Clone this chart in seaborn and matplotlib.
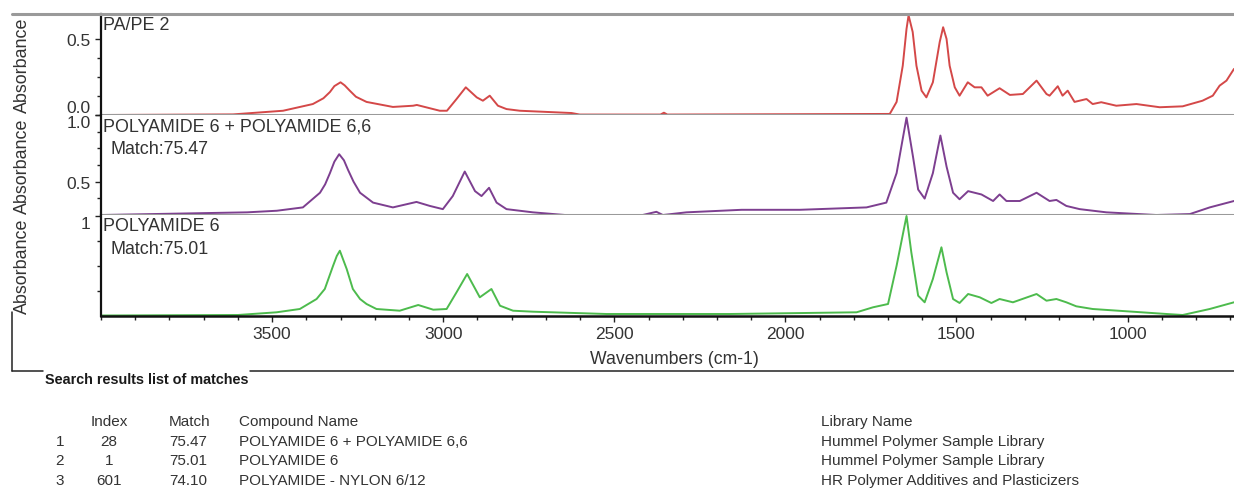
import matplotlib
matplotlib.use("Agg")
import matplotlib.pyplot as plt
from matplotlib.lines import Line2D
from matplotlib.ticker import FixedLocator, FixedFormatter, MultipleLocator, NullLocator
import pandas as pd
import seaborn as sns

# ---------------------------------------------------------------
# FT-IR spectra: (wavenumber cm-1, absorbance)
# ---------------------------------------------------------------
sample_points = [
    (4000, 0.000), (3614, 0.004), (3468, 0.028), (3381, 0.072), (3350, 0.110),
    (3331, 0.151), (3318, 0.190), (3300, 0.215), (3288, 0.195), (3273, 0.160),
    (3255, 0.120), (3224, 0.086), (3147, 0.053), (3088, 0.061),
    (3077, 0.066), (3010, 0.028), (2989, 0.028), (2961, 0.105), (2934, 0.182),
    (2902, 0.116), (2884, 0.094), (2864, 0.127), (2840, 0.061), (2815, 0.039),
    (2776, 0.028), (2625, 0.013), (2601, 0.003), (2365, 0.003), (2355, 0.015),
    (2345, 0.003), (1695, 0.007), (1675, 0.086), (1657, 0.324), (1646, 0.566),
    (1640, 0.655), (1628, 0.546), (1617, 0.324), (1602, 0.160), (1588, 0.116),
    (1569, 0.215), (1549, 0.480), (1539, 0.577), (1529, 0.500), (1520, 0.324),
    (1505, 0.182), (1491, 0.127), (1467, 0.215), (1447, 0.182), (1427, 0.182),
    (1409, 0.127), (1374, 0.176), (1344, 0.132), (1306, 0.138), (1266, 0.226),
    (1237, 0.138), (1228, 0.127), (1204, 0.189), (1190, 0.127), (1175, 0.160),
    (1155, 0.086), (1120, 0.105), (1102, 0.072), (1077, 0.084), (1033, 0.061),
    (974, 0.072), (906, 0.051), (839, 0.057), (781, 0.094), (751, 0.127),
    (731, 0.193), (711, 0.226), (689, 0.303),
]

pa6_pa66_points = [
    (4000, 0.250), (3573, 0.270), (3486, 0.282), (3410, 0.307), (3360, 0.417),
    (3345, 0.480), (3331, 0.564), (3318, 0.650), (3304, 0.706), (3290, 0.660),
    (3278, 0.588), (3262, 0.500), (3243, 0.417), (3205, 0.343),
    (3147, 0.307), (3078, 0.348), (3039, 0.318), (3001, 0.294), (2972, 0.392),
    (2937, 0.576), (2907, 0.429), (2888, 0.392), (2866, 0.454), (2844, 0.343),
    (2815, 0.294), (2738, 0.270), (2644, 0.250), (2417, 0.250), (2377, 0.274),
    (2358, 0.250), (2289, 0.270), (2128, 0.289), (1958, 0.289), (1763, 0.307),
    (1705, 0.343), (1675, 0.564), (1646, 0.980), (1627, 0.686), (1612, 0.441),
    (1593, 0.373), (1569, 0.564), (1547, 0.846), (1529, 0.613), (1510, 0.417),
    (1491, 0.368), (1466, 0.429), (1427, 0.404), (1393, 0.355), (1374, 0.404),
    (1354, 0.355), (1315, 0.355), (1266, 0.417), (1228, 0.355), (1208, 0.363),
    (1179, 0.318), (1140, 0.294), (1062, 0.270), (916, 0.250), (818, 0.257),
    (760, 0.307), (689, 0.355),
]

pa6_points = [
    (4000, 0.005), (3600, 0.010), (3487, 0.037), (3419, 0.070), (3370, 0.170),
    (3346, 0.270), (3322, 0.500), (3311, 0.600), (3302, 0.653), (3293, 0.570),
    (3282, 0.470), (3264, 0.270), (3243, 0.170), (3224, 0.120), (3195, 0.070),
    (3127, 0.053), (3073, 0.110), (3029, 0.063), (2990, 0.070), (2961, 0.237),
    (2930, 0.420), (2893, 0.187), (2859, 0.270), (2834, 0.103), (2796, 0.053),
    (2737, 0.043), (2523, 0.020), (2162, 0.020), (1792, 0.037), (1744, 0.087),
    (1700, 0.120), (1675, 0.503), (1646, 1.000), (1632, 0.637), (1612, 0.203),
    (1593, 0.137), (1569, 0.370), (1544, 0.687), (1529, 0.437), (1510, 0.170),
    (1491, 0.130), (1466, 0.220), (1432, 0.187), (1398, 0.130), (1374, 0.170),
    (1335, 0.137), (1266, 0.220), (1237, 0.153), (1208, 0.170), (1179, 0.137),
    (1150, 0.097), (1102, 0.070), (985, 0.043), (886, 0.020), (839, 0.010),
    (760, 0.070), (689, 0.137),
]

panel_titles = ["PA/PE 2", "POLYAMIDE 6 + POLYAMIDE 6,6", "POLYAMIDE 6"]

# search hit list
hit_rank = ["1", "2", "3"]
hit_index = ["28", "1", "601"]
hit_match = ["75.47", "75.01", "74.10"]
hit_compound = ["POLYAMIDE 6 + POLYAMIDE 6,6", "POLYAMIDE 6", "POLYAMIDE - NYLON 6/12"]
hit_library = ["Hummel Polymer Sample Library", "Hummel Polymer Sample Library",
               "HR Polymer Additives and Plasticizers"]

x_major = [3500, 3000, 2500, 2000, 1500, 1000]
x_limits = (4000, 689)

# ---------------------------------------------------------------
sns.set_style("ticks")
plt.rcParams["font.family"] = ["Liberation Sans", "DejaVu Sans"]
TXT = "#333333"
plt.rcParams["text.color"] = TXT
LABEL_FS = 12.9

W, H = 1234, 489
fig = plt.figure(figsize=(W / 100, H / 100), dpi=100)
fig.patch.set_facecolor("white")


def rect(left, top, right, bottom):
    return [left / W, 1 - bottom / H, (right - left) / W, (bottom - top) / H]


def fx(x):
    return x / W


def fy(y):
    return 1 - y / H


panels = [
    dict(points=sample_points, color="#d44848", box=(15, 116), ylim=(0, 0.664),
         major=[0.0, 0.5], labels=["0.0", "0.5"], minor=[0.125, 0.25, 0.375],
         match=None, shift={0: "bottom"}),
    dict(points=pa6_pa66_points, color="#7d3f90", box=(116, 216), ylim=(0.25, 1.0),
         major=[0.5, 1.0], labels=["0.5", "1.0"], minor=[0.375, 0.625, 0.75, 0.875],
         match="Match:" + hit_match[0], shift={1: "top"}),
    dict(points=pa6_points, color="#4dbb4d", box=(216, 317), ylim=(0, 1.01),
         major=[1.0], labels=["1"], minor=[0.25, 0.5, 0.75],
         match="Match:" + hit_match[1], shift={0: "top"}),
]

SEP = "#9a9a9a"
for i, p in enumerate(panels):
    top, bottom = p["box"]
    ax = fig.add_axes(rect(101, top, W, bottom))
    df = pd.DataFrame(p["points"], columns=["wavenumber", "absorbance"])
    sns.lineplot(data=df, x="wavenumber", y="absorbance", ax=ax, color=p["color"],
                 linewidth=1.4, estimator=None, sort=False)
    ax.set_xlim(*x_limits)
    ax.set_ylim(*p["ylim"])
    ax.set_xlabel("")
    ax.set_ylabel("Absorbance", fontsize=12.9, color=TXT)
    ax.yaxis.set_label_coords(31 / W, 0.5,
                              transform=matplotlib.transforms.blended_transform_factory(
                                  fig.transFigure, ax.transAxes))

    # spines
    ax.spines["right"].set_visible(False)
    ax.spines["left"].set_linewidth(1.6)
    ax.spines["left"].set_color("#111111")
    if i == 0:
        ax.spines["top"].set_color(SEP)
        ax.spines["top"].set_linewidth(2.2)
    else:
        ax.spines["top"].set_visible(False)
    if i < 2:
        ax.spines["bottom"].set_color(SEP)
        ax.spines["bottom"].set_linewidth(2.2)
    else:
        ax.spines["bottom"].set_color("#111111")
        ax.spines["bottom"].set_linewidth(1.8)

    # y ticks
    ax.yaxis.set_major_locator(FixedLocator(p["major"]))
    ax.yaxis.set_major_formatter(FixedFormatter(p["labels"]))
    ax.yaxis.set_minor_locator(FixedLocator(p["minor"]))
    ax.tick_params(axis="y", which="major", direction="out", length=4, width=1,
                   pad=3.5, labelsize=12.5, labelcolor=TXT, color="#222222")
    ax.tick_params(axis="y", which="minor", direction="out", length=3, width=1,
                   color="#222222")

    # x ticks only on the lowest panel
    if i < 2:
        ax.xaxis.set_major_locator(NullLocator())
        ax.xaxis.set_minor_locator(NullLocator())
    else:
        ax.xaxis.set_major_locator(FixedLocator(x_major))
        ax.xaxis.set_minor_locator(MultipleLocator(100))
        ax.tick_params(axis="x", which="major", direction="out", length=4, width=1,
                       pad=3, labelsize=12.5, labelcolor=TXT, color="#222222")
        ax.tick_params(axis="x", which="minor", direction="out", length=3, width=1,
                       color="#222222")

    # keep end labels inside the panel
    ticks = ax.yaxis.get_major_ticks()
    for k, va in p["shift"].items():
        ticks[k].label1.set_verticalalignment(va)

    # panel captions
    ax.annotate(panel_titles[i], xy=(0, 1), xycoords="axes fraction",
                xytext=(1.5, -7.9), textcoords="offset points",
                ha="left", va="center", fontsize=LABEL_FS, color=TXT)
    if p["match"]:
        ax.annotate(p["match"], xy=(0, 1), xycoords="axes fraction",
                    xytext=(7.2, -24.2), textcoords="offset points",
                    ha="left", va="center", fontsize=LABEL_FS, color=TXT)

fig.text(fx(674), fy(359), "Wavenumbers (cm-1)", ha="center", va="center",
         fontsize=12.7, color=TXT)

# outer frame of the spectrum view
fig.add_artist(Line2D([fx(12), fx(101)], [fy(15), fy(15)], transform=fig.transFigure,
                      color=SEP, lw=2.2))
fig.add_artist(Line2D([fx(12), fx(12)], [fy(313), fy(371.5)], transform=fig.transFigure,
                      color="#222222", lw=1.1))
fig.add_artist(Line2D([fx(12), fx(43)], [fy(371.5), fy(371.5)], transform=fig.transFigure,
                      color="#222222", lw=1.1))
fig.add_artist(Line2D([fx(250), fx(W)], [fy(371.5), fy(371.5)], transform=fig.transFigure,
                      color="#222222", lw=1.1))

fig.text(fx(45), fy(380), "Search results list of matches", ha="left", va="center",
         fontsize=10.4, fontweight="bold", color="#1a1a1a")

# hit table
row_y = [442, 461.5, 481]
head_y = 422
fs = 11
fig.text(fx(109), fy(head_y), "Index", ha="center", va="center", fontsize=fs)
fig.text(fx(169), fy(head_y), "Match", ha="left", va="center", fontsize=fs)
fig.text(fx(239), fy(head_y), "Compound Name", ha="left", va="center", fontsize=fs)
fig.text(fx(821), fy(head_y), "Library Name", ha="left", va="center", fontsize=fs)
for yy, r, idx, m, comp, lib in zip(row_y, hit_rank, hit_index, hit_match,
                                     hit_compound, hit_library):
    fig.text(fx(60), fy(yy), r, ha="center", va="center", fontsize=fs)
    fig.text(fx(109), fy(yy), idx, ha="center", va="center", fontsize=fs)
    fig.text(fx(169), fy(yy), m, ha="left", va="center", fontsize=fs)
    fig.text(fx(239), fy(yy), comp, ha="left", va="center", fontsize=fs)
    fig.text(fx(821), fy(yy), lib, ha="left", va="center", fontsize=fs)

fig.savefig("out.png", dpi=100, facecolor="white")
